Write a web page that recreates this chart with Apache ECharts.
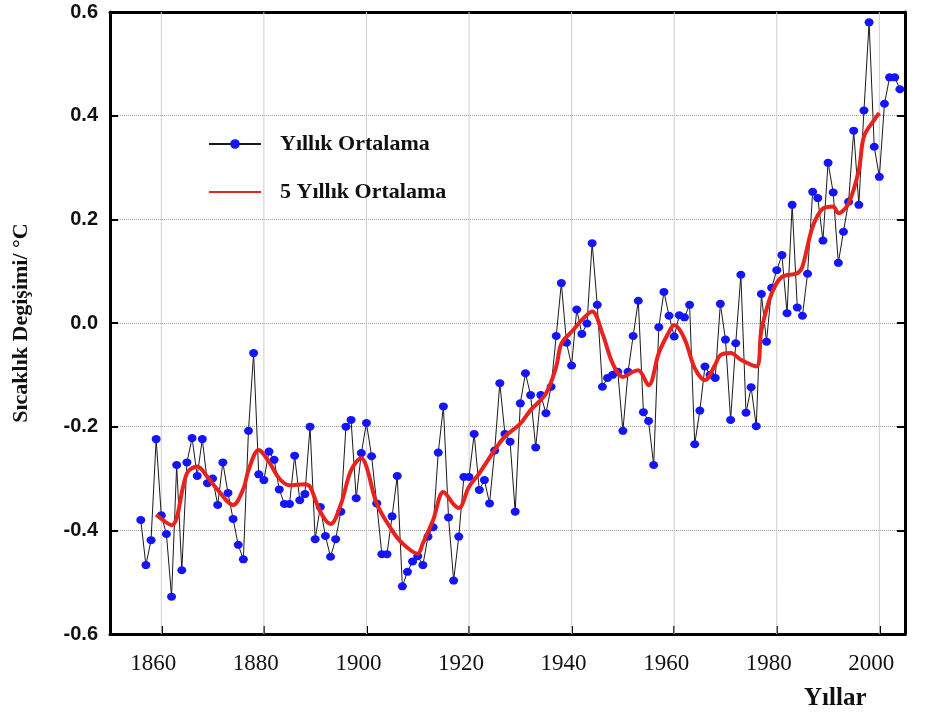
<!DOCTYPE html>
<html>
<head>
<meta charset="utf-8">
<script src="https://cdn.jsdelivr.net/npm/echarts@6/dist/echarts.min.js"></script>
<style>
  html, body { margin: 0; padding: 0; background: #fff; }
  #chart { width: 925px; height: 720px; }
</style>
</head>
<body>
<div id="chart"></div>
<script>
// ---- data ----
const annualStartYear = 1856;
const annualValues = [
  -0.38, -0.467, -0.419, -0.224, -0.371, -0.407, -0.528, -0.274, -0.477, -0.269,
  -0.222, -0.295, -0.224, -0.309, -0.30, -0.351, -0.269, -0.328, -0.378, -0.428,
  -0.456, -0.208, -0.058, -0.292, -0.303, -0.248, -0.264, -0.321, -0.349, -0.349,
  -0.256, -0.342, -0.33, -0.200, -0.417, -0.355, -0.411, -0.451, -0.417, -0.364,
  -0.200, -0.187, -0.338, -0.251, -0.193, -0.257, -0.348, -0.446, -0.446, -0.373,
  -0.295, -0.508, -0.480, -0.46, -0.45, -0.467, -0.412, -0.394, -0.250, -0.161,
  -0.375, -0.497, -0.412, -0.297, -0.297, -0.214, -0.322, -0.303, -0.348, -0.246,
  -0.116, -0.214, -0.229, -0.364, -0.155, -0.097, -0.139, -0.240, -0.139, -0.174,
  -0.123, -0.025, 0.077, -0.038, -0.082, 0.026, -0.021, -0.001, 0.154, 0.035,
  -0.123, -0.106, -0.10, -0.094, -0.208, -0.094, -0.025, 0.043, -0.172, -0.189,
  -0.274, -0.008, 0.060, 0.014, -0.026, 0.015, 0.011, 0.035, -0.234, -0.169,
  -0.084, -0.10, -0.106, 0.037, -0.032, -0.187, -0.039, 0.093, -0.173, -0.124,
  -0.199, 0.056, -0.036, 0.068, 0.102, 0.131, 0.019, 0.228, 0.030, 0.014,
  0.095, 0.253, 0.241, 0.159, 0.309, 0.252, 0.116, 0.176, 0.234, 0.371,
  0.228, 0.410, 0.58, 0.340, 0.282, 0.423, 0.474, 0.474, 0.451
];
const smoothYears = [
  1859, 1862, 1865, 1867, 1869, 1871, 1874, 1876, 1877, 1879,
  1881, 1883, 1885, 1888, 1889, 1891, 1893, 1895, 1897, 1899,
  1900, 1902, 1905, 1907, 1910, 1911, 1913, 1915, 1917, 1918,
  1920, 1922, 1925, 1927, 1930, 1932, 1935, 1937, 1938, 1940,
  1942, 1944, 1946, 1948, 1950, 1952, 1953, 1955, 1957, 1959,
  1960, 1962, 1964, 1966, 1968, 1969, 1971, 1973, 1976, 1977,
  1979, 1981, 1984, 1985, 1987, 1989, 1991, 1992, 1994, 1996,
  1997, 1999, 2000
];
const smoothValues = [
  -0.37, -0.39, -0.29, -0.277, -0.297, -0.322, -0.351, -0.32, -0.284, -0.245,
  -0.268, -0.300, -0.313, -0.311, -0.316, -0.364, -0.388, -0.35, -0.284, -0.261,
  -0.277, -0.348, -0.40, -0.425, -0.445, -0.425, -0.38, -0.326, -0.35, -0.357,
  -0.316, -0.29, -0.245, -0.219, -0.194, -0.168, -0.136, -0.084, -0.04, -0.017,
  0.006, 0.022, -0.02, -0.078, -0.104, -0.094, -0.091, -0.12, -0.058, -0.017,
  -0.004, -0.03, -0.087, -0.11, -0.08, -0.062, -0.058, -0.071, -0.084, -0.014,
  0.057, 0.089, 0.096, 0.109, 0.186, 0.221, 0.225, 0.212, 0.231, 0.295,
  0.36, 0.392, 0.405
];
const xFirstTick = 1860;
const xTickStep = 20;
const xTickYears = [1860, 1880, 1900, 1920, 1940, 1960, 1980, 2000];
const seriesNames = ['Yıllık Ortalama', '5 Yıllık Ortalama'];
const yAxisTitle = 'Sıcaklık Degişimi/ °C';
const xAxisTitle = 'Yıllar';

// ---- build ----
const X_MIN = 1850, X_MAX = 2005, Y_MIN = -0.6, Y_MAX = 0.6;
const GRID_LEFT = 110, GRID_RIGHT = 20, GRID_TOP = 12, GRID_BOTTOM = 86;
const plotW = 925 - GRID_LEFT - GRID_RIGHT;
// axis-only grid starting exactly at the first tick year, so ticks count from its min
const tickGridLeft = GRID_LEFT + (xFirstTick - X_MIN) / (X_MAX - X_MIN) * plotW;

const annualData = annualValues.map((v, i) => [annualStartYear + i, v]);
const smoothData = smoothYears.map((y, i) => [y, smoothValues[i]]);

// vertical gridlines drawn through the axes as thin guide lines
const vGridSeries = xTickYears.map(yr => ({
  name: 'vgrid-' + yr,
  type: 'line', xAxisIndex: 0, yAxisIndex: 0,
  data: [[yr, Y_MIN], [yr, Y_MAX]],
  symbol: 'none', silent: true, z: 1,
  lineStyle: { color: '#cfcfcf', width: 1, type: 'solid' },
  emphasis: { disabled: true },
  tooltip: { show: false }
}));

const chart = echarts.init(document.getElementById('chart'), null, { renderer: 'canvas' });

chart.setOption({
  animation: false,
  backgroundColor: '#fff',
  grid: [{
    left: GRID_LEFT, right: GRID_RIGHT, top: GRID_TOP, bottom: GRID_BOTTOM, show: false
  }, {
    left: tickGridLeft, right: GRID_RIGHT, top: GRID_TOP, bottom: GRID_BOTTOM, show: false
  }],
  legend: {
    data: [
      { name: seriesNames[0] },
      { name: seriesNames[1], itemStyle: { opacity: 0 } }
    ],
    orient: 'vertical',
    left: 203, top: 127,
    itemWidth: 52, itemHeight: 12,
    itemGap: 24,
    textStyle: { fontFamily: 'Liberation Serif', fontWeight: 'bold', fontSize: 22, color: '#111', lineHeight: 24, padding: [0, 0, 0, 14] },
    selectedMode: false
  },
  xAxis: [{
    gridIndex: 0, type: 'value', min: X_MIN, max: X_MAX,
    axisLine: { show: true, onZero: false, lineStyle: { color: '#000', width: 3 } },
    axisTick: { show: false }, axisLabel: { show: false }, splitLine: { show: false }
  }, {
    gridIndex: 0, type: 'value', min: X_MIN, max: X_MAX, position: 'top',
    axisLine: { show: true, onZero: false, lineStyle: { color: '#000', width: 3 } },
    axisTick: { show: false }, axisLabel: { show: false }, splitLine: { show: false }
  }, {
    gridIndex: 1, type: 'value', min: xFirstTick, max: X_MAX, interval: xTickStep,
    axisLine: { show: true, onZero: false, lineStyle: { color: '#000', width: 3 } },
    axisTick: { show: true, inside: true, length: 8, lineStyle: { color: '#000', width: 2 } },
    axisLabel: {
      margin: 18, showMaxLabel: false,
      fontFamily: 'Liberation Serif', fontSize: 23, color: '#111',
      padding: [0, 16, 0, 0],
      formatter: v => String(v)
    },
    splitLine: { show: false }
  }],
  yAxis: [{
    gridIndex: 0, type: 'value', min: Y_MIN, max: Y_MAX, interval: 0.2,
    axisLine: { show: true, onZero: false, lineStyle: { color: '#000', width: 3 } },
    axisTick: { show: true, inside: true, length: 8, lineStyle: { color: '#000', width: 2 } },
    axisLabel: {
      margin: 12, fontFamily: 'Liberation Sans', fontWeight: 'bold', fontSize: 20, color: '#111',
      formatter: v => v.toFixed(1)
    },
    splitLine: { show: true, lineStyle: { type: 'dotted', color: '#999', width: 1 } },
    name: yAxisTitle,
    nameLocation: 'middle', nameRotate: 90, nameGap: 78,
    nameTextStyle: { fontFamily: 'Liberation Serif', fontWeight: 'bold', fontSize: 22, color: '#111' }
  }, {
    gridIndex: 0, type: 'value', min: Y_MIN, max: Y_MAX, interval: 0.2, position: 'right',
    axisLine: { show: true, onZero: false, lineStyle: { color: '#000', width: 3 } },
    axisTick: { show: true, inside: true, length: 8, lineStyle: { color: '#000', width: 2 } },
    axisLabel: { show: false }, splitLine: { show: false }
  }, {
    gridIndex: 1, type: 'value', min: Y_MIN, max: Y_MAX, interval: 0.2, show: false
  }],
  graphic: [{
    type: 'text', left: 804, top: 686,
    style: { text: xAxisTitle, font: 'bold 25px "Liberation Serif"', fill: '#111' }
  }],
  series: vGridSeries.concat([{
    name: seriesNames[0],
    type: 'line', data: annualData, z: 3,
    xAxisIndex: 0, yAxisIndex: 0,
    symbol: 'circle', symbolSize: [9, 8], showSymbol: true,
    lineStyle: { color: '#1a1a1a', width: 1 },
    itemStyle: { color: '#1414ff', borderWidth: 0 }
  }, {
    name: seriesNames[1],
    type: 'line', data: smoothData, z: 4,
    xAxisIndex: 0, yAxisIndex: 0,
    smooth: 0.35, symbol: 'none',
    lineStyle: { color: '#e8231e', width: 4 },
    itemStyle: { color: '#e8231e' }
  }])
});
</script>
</body>
</html>
